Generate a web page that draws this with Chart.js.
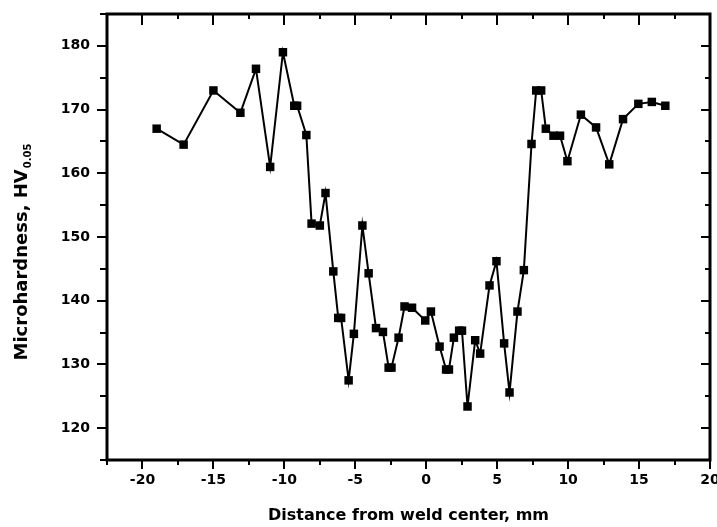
<html lang="en">

<head>
  <meta charset="UTF-8">
  <script src="https://cdn.jsdelivr.net/npm/chart.js@4.4.1/dist/chart.umd.min.js"></script>
  <title>Microhardness profile</title>
  <style>
    html, body { margin: 0; padding: 0; background: #fff; }
    #wrap { width: 717px; height: 527px; }
  </style>
</head>

<body>
  <div id="wrap"><canvas id="myChart" width="717" height="527"></canvas></div>
  <script>
    // distance from weld center (mm) and measured hardness
    const distance = [-19, -17.1, -15, -13.1, -12, -11, -10.1, -9.3, -9.1, -8.45, -8.08, -7.5, -7.1,
      -6.55, -6.2, -6.0, -5.47, -5.1, -4.5, -4.06, -3.54, -3.05, -2.65, -2.45, -1.95, -1.53, -1.0,
      -0.07, 0.33, 0.94, 1.4, 1.6, 1.95, 2.32, 2.52, 2.91, 3.45, 3.8, 4.46, 4.95, 5.49, 5.87, 6.43,
      6.88, 7.42, 7.75, 8.1, 8.43, 8.97, 9.43, 9.95, 10.9, 11.97, 12.9, 13.87, 14.95, 15.9, 16.85];
    const hardness = [167.0, 164.5, 173.0, 169.5, 176.4, 161.0, 179.0, 170.6, 170.6, 166.0, 152.1, 151.8, 156.9,
      144.6, 137.3, 137.3, 127.5, 134.8, 151.8, 144.3, 135.7, 135.1, 129.5, 129.5, 134.2, 139.1, 138.9,
      136.9, 138.3, 132.8, 129.2, 129.2, 134.2, 135.3, 135.3, 123.4, 133.8, 131.7, 142.4, 146.2, 133.3, 125.6, 138.3,
      144.8, 164.6, 173.0, 173.0, 167.0, 165.9, 165.9, 161.9, 169.2, 167.2, 161.4, 168.5, 170.9, 171.2, 170.6];

    const xTicks = [-20, -15, -10, -5, 0, 5, 10, 15, 20];
    const yTicks = [120, 130, 140, 150, 160, 170, 180];

    Chart.defaults.font.family = 'DejaVu Sans';
    Chart.defaults.color = '#000';

    // box round the plot with major / minor tick marks (left+bottom out, top+right in)
    const frame = {
      id: 'frame',
      afterDraw(chart) {
        const { ctx, chartArea: a, scales: { x, y } } = chart;
        ctx.save();
        ctx.strokeStyle = '#000';
        ctx.lineWidth = 3;
        ctx.strokeRect(a.left, a.top, a.right - a.left, a.bottom - a.top);
        ctx.lineWidth = 2;
        ctx.beginPath();
        for (let v = x.min; v <= x.max + 0.01; v += 2.5) {
          const px = Math.round(x.getPixelForValue(v));
          const major = xTicks.includes(v);
          ctx.moveTo(px, a.bottom);
          ctx.lineTo(px, a.bottom + (major ? 9 : 5));
          ctx.moveTo(px, a.top);
          ctx.lineTo(px, a.top + (major ? 11 : 5));
        }
        for (let v = y.min; v <= y.max + 0.01; v += 5) {
          const py = Math.round(y.getPixelForValue(v));
          const major = yTicks.includes(v);
          ctx.moveTo(a.left, py);
          ctx.lineTo(a.left - (major ? 10 : 7), py);
          ctx.moveTo(a.right, py);
          ctx.lineTo(a.right - (major ? 9 : 5), py);
        }
        ctx.stroke();

        // y title with subscript
        ctx.translate(22, 252);
        ctx.rotate(-Math.PI / 2);
        ctx.fillStyle = '#000';
        ctx.textBaseline = 'middle';
        ctx.textAlign = 'left';
        const main = 'Microhardness, HV';
        const sub = '0.05';
        ctx.font = 'bold 18px "DejaVu Sans"';
        const w1 = ctx.measureText(main).width;
        ctx.font = 'bold 10px "DejaVu Sans"';
        const w2 = ctx.measureText(sub).width;
        const start = -(w1 + w2 + 1) / 2;
        ctx.font = 'bold 18px "DejaVu Sans"';
        ctx.fillText(main, start, 0);
        ctx.font = 'bold 10px "DejaVu Sans"';
        ctx.fillText(sub, start + w1 + 1, 6);
        ctx.restore();
      }
    };

    const ctx = document.getElementById('myChart').getContext('2d');
    const myChart = new Chart(ctx, {
      type: 'scatter',
      data: {
        datasets: [{
          label: 'HV',
          data: distance.map((d, i) => ({ x: d, y: hardness[i] })),
          showLine: true,
          borderColor: '#000',
          borderWidth: 2,
          tension: 0,
          pointStyle: 'rect',
          pointRadius: 6,
          pointBorderWidth: 0,
          pointBackgroundColor: '#000',
          pointBorderColor: '#000'
        }]
      },
      options: {
        responsive: false,
        animation: false,
        layout: { padding: { top: 14, right: 7, left: 0, bottom: 0 } },
        plugins: {
          legend: { display: false },
          tooltip: { enabled: false }
        },
        scales: {
          x: {
            type: 'linear',
            min: -22.5,
            max: 20,
            grid: { display: false, drawTicks: false },
            border: { display: false },
            afterBuildTicks: scale => { scale.ticks = xTicks.map(v => ({ value: v })); },
            afterFit: scale => { scale.height = 67; scale.paddingLeft = 0; scale.paddingRight = 0; },
            ticks: {
              font: { size: 14, weight: 'bold' },
              padding: 12,
              maxRotation: 0,
              autoSkip: false,
              callback: v => String(v)
            },
            title: {
              display: true,
              text: 'Distance from weld center, mm',
              font: { size: 16, weight: 'bold' },
              padding: { top: 0, bottom: 2 }
            }
          },
          y: {
            type: 'linear',
            min: 115,
            max: 185,
            grid: { display: false, drawTicks: false },
            border: { display: false },
            afterBuildTicks: scale => { scale.ticks = yTicks.map(v => ({ value: v })); },
            afterFit: scale => { scale.width = 107; scale.paddingTop = 0; scale.paddingBottom = 0; },
            ticks: {
              font: { size: 14, weight: 'bold' },
              padding: 17,
              callback: v => String(v)
            }
          }
        }
      },
      plugins: [frame]
    });
  </script>
</body>

</html>
